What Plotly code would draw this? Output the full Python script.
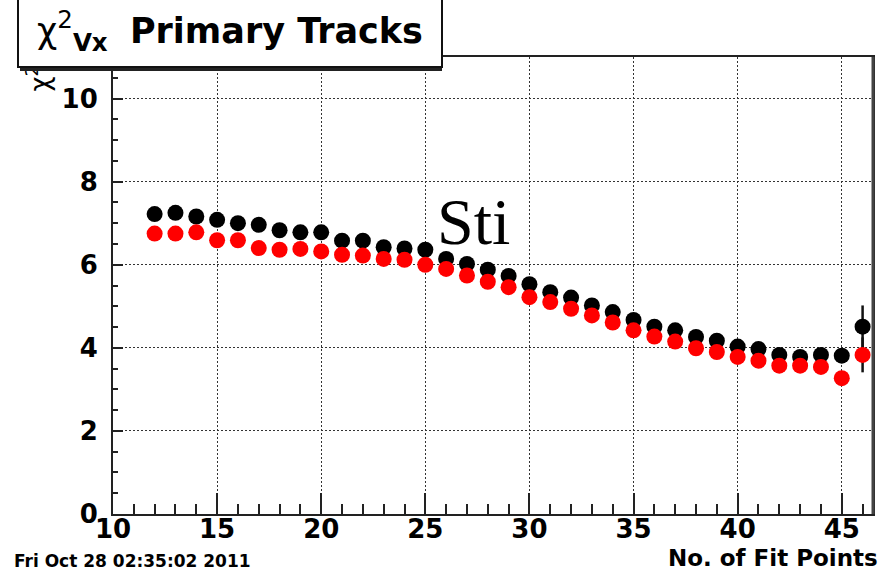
import plotly.graph_objects as go

# Number of fit points (bin centres)
fit_points = [12, 13, 14, 15, 16, 17, 18, 19, 20, 21, 22, 23, 24, 25, 26, 27, 28,
              29, 30, 31, 32, 33, 34, 35, 36, 37, 38, 39, 40, 41, 42, 43, 44, 45, 46]

# Mean chi2 of the vertex fit, two track samples
chi2_black = [7.22, 7.25, 7.16, 7.08, 7.00, 6.96, 6.83, 6.78, 6.78, 6.58, 6.58, 6.42,
              6.39, 6.36, 6.14, 6.02, 5.88, 5.73, 5.53, 5.34, 5.21, 5.02, 4.86, 4.67,
              4.51, 4.42, 4.26, 4.17, 4.03, 3.97, 3.83, 3.78, 3.83, 3.81, 4.51]
chi2_red = [6.75, 6.75, 6.78, 6.59, 6.59, 6.40, 6.36, 6.38, 6.32, 6.24, 6.22, 6.14,
            6.12, 6.00, 5.90, 5.74, 5.59, 5.46, 5.22, 5.10, 4.94, 4.78, 4.61, 4.42,
            4.27, 4.15, 3.99, 3.90, 3.78, 3.69, 3.57, 3.57, 3.54, 3.27, 3.83]

# Statistical errors (only the last bin is visibly larger than the marker)
err_black = [0.02, 0.02, 0.02, 0.02, 0.02, 0.02, 0.02, 0.02, 0.02, 0.02, 0.02, 0.02,
             0.02, 0.02, 0.02, 0.02, 0.02, 0.02, 0.02, 0.02, 0.02, 0.02, 0.03, 0.03,
             0.03, 0.03, 0.03, 0.04, 0.04, 0.05, 0.05, 0.06, 0.08, 0.12, 0.51]
err_red = [0.02, 0.02, 0.02, 0.02, 0.02, 0.02, 0.02, 0.02, 0.02, 0.02, 0.02, 0.02,
           0.02, 0.02, 0.02, 0.02, 0.02, 0.02, 0.02, 0.02, 0.02, 0.02, 0.03, 0.03,
           0.03, 0.03, 0.03, 0.04, 0.04, 0.05, 0.05, 0.06, 0.08, 0.12, 0.42]

x_ticks = [10, 15, 20, 25, 30, 35, 40, 45]
y_ticks = [0, 2, 4, 6, 8, 10]

W, H = 888, 571
L, R, T, B = 113, 15, 57, 57
PW, PH = W - L - R, H - T - B


def px(x):
    return (x - L) / PW


def py(y):
    return (H - B - y) / PH


BOLD = "DejaVu Sans"

fig = go.Figure()
fig.add_trace(go.Scatter(
    x=fit_points, y=chi2_black, mode="markers",
    marker=dict(symbol="circle", size=16, color="#000000", line=dict(width=0)),
    error_y=dict(type="data", array=err_black, color="#111111", thickness=2.5, width=0),
    showlegend=False,
))
fig.add_trace(go.Scatter(
    x=fit_points, y=chi2_red, mode="markers",
    marker=dict(symbol="circle", size=16, color="#ff0000", line=dict(width=0)),
    error_y=dict(type="data", array=err_red, color="#111111", thickness=2.5, width=0),
    showlegend=False,
))

axis_common = dict(
    showline=True, linecolor="#222222", linewidth=2, mirror=True,
    ticks="inside", tickcolor="#222222", tickwidth=1.5,
    showgrid=True, gridcolor="#333333", gridwidth=1, griddash="2px,2px",
    zeroline=False,
    tickfont=dict(family=BOLD, size=26, color="#000000", weight="bold"),
)

fig.update_xaxes(
    range=[10, 46.5], tickmode="array", tickvals=x_ticks,
    ticklen=21, ticklabelstandoff=-9,
    minor=dict(dtick=1, ticks="inside", ticklen=10, tickcolor="#222222", tickwidth=1.5, showgrid=False),
    **axis_common,
)
fig.update_yaxes(
    range=[0, 11], tickmode="array", tickvals=y_ticks,
    ticklen=10, ticklabelstandoff=8,
    minor=dict(dtick=0.5, ticks="inside", ticklen=5, tickcolor="#222222", tickwidth=1.5, showgrid=False),
    **axis_common,
)

# heavier right-hand edge of the frame
fig.add_shape(type="line", xref="paper", yref="paper", x0=1, x1=1, y0=0, y1=1,
              line=dict(color="#444444", width=3))

annotations = [
    # rotated y-axis title, mostly tucked under the title box
    dict(text="χ<sup>2</sup><sub><b>Vx</b></sub>", textangle=-90,
         x=px(40), y=py(94), xanchor="center", yanchor="bottom",
         font=dict(family=BOLD, size=26, color="#000000")),
    # drop shadow of the title box
    dict(text=" ", x=px(20), y=py(71), xanchor="left", yanchor="bottom",
         width=422, height=72, bgcolor="#222222", borderwidth=0, borderpad=0,
         font=dict(size=10)),
    # title box
    dict(text="χ<sup>2</sup><sub><b>Vx</b></sub>  <b>Primary Tracks</b>",
         x=px(17), y=py(68), xanchor="left", yanchor="bottom",
         width=422, height=70, align="center", valign="middle",
         bgcolor="#ffffff", bordercolor="#111111", borderwidth=2, borderpad=0,
         font=dict(family=BOLD, size=35, color="#000000")),
    # x-axis title
    dict(text="<b>No. of Fit Points</b>", x=px(880), y=py(557.5),
         xanchor="right", yanchor="middle",
         font=dict(family=BOLD, size=23, color="#000000")),
    # time stamp
    dict(text="<b>Fri Oct 28 02:35:02 2011</b>", x=px(12), y=py(561),
         xanchor="left", yanchor="middle",
         font=dict(family=BOLD, size=17, color="#000000")),
    # tracker label
    dict(text="Sti", x=27.3, y=7.04, xref="x", yref="y",
         xanchor="center", yanchor="middle",
         font=dict(family="Liberation Serif", size=66, color="#000000")),
]
for a in annotations:
    a.setdefault("xref", "paper")
    a.setdefault("yref", "paper")
    a["showarrow"] = False
    fig.add_annotation(**a)

fig.update_layout(
    width=W, height=H,
    margin=dict(l=L, r=R, t=T, b=B, autoexpand=False),
    paper_bgcolor="#ffffff", plot_bgcolor="#ffffff",
)

fig.write_html("out.html")
